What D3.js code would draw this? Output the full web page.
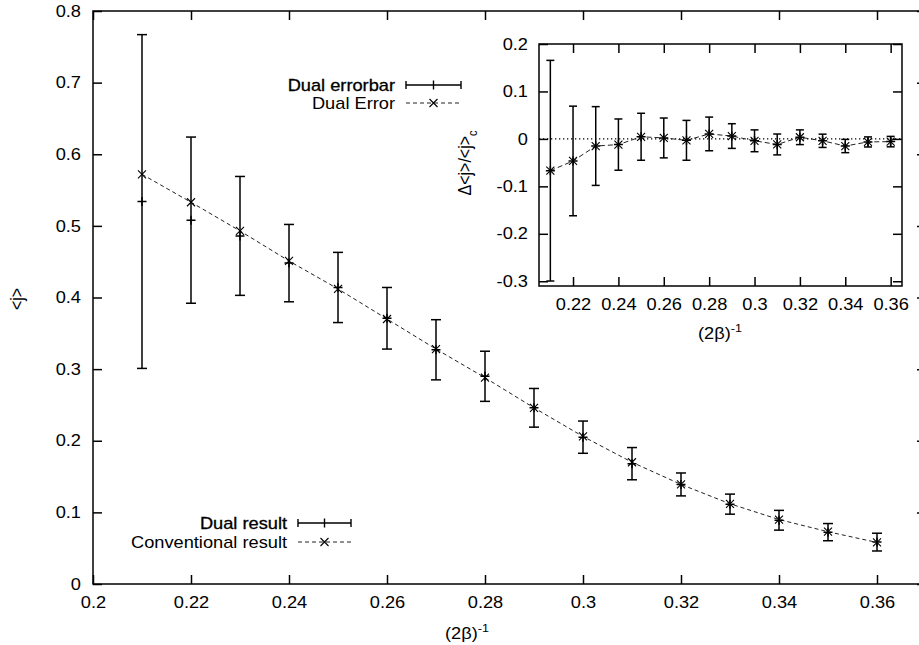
<!DOCTYPE html>
<html>
<head>
<meta charset="utf-8">
<script src="https://cdn.jsdelivr.net/npm/d3@7"></script>
<style>
  body { margin: 0; background: #fff; }
  svg text { font-family: "Liberation Sans", Arial, sans-serif; fill: #000; }
</style>
</head>
<body>
<div id="chart"></div>
<script>
// (2beta)^-1 values shared by both panels
const betaInv = [0.21, 0.22, 0.23, 0.24, 0.25, 0.26, 0.27, 0.28, 0.29, 0.30, 0.31, 0.32, 0.33, 0.34, 0.35, 0.36];
// main panel: conventional <j> and dual result with its error
const conventional = [0.572, 0.533, 0.493, 0.451, 0.412, 0.370, 0.328, 0.288, 0.246, 0.206, 0.170, 0.139, 0.112, 0.090, 0.073, 0.058];
const dualResult = [0.534, 0.508, 0.486, 0.448, 0.414, 0.371, 0.327, 0.290, 0.246, 0.205, 0.168, 0.139, 0.1115, 0.089, 0.0724, 0.0585];
const dualError = [0.233, 0.116, 0.083, 0.054, 0.049, 0.043, 0.042, 0.035, 0.027, 0.0225, 0.0225, 0.016, 0.014, 0.0138, 0.012, 0.0124];
// inset: relative deviation and its error
const relDev = [-0.067, -0.0465, -0.015, -0.012, 0.0045, 0.002, -0.003, 0.0105, 0.006, -0.004, -0.0117, 0.0035, -0.004, -0.015, -0.0064, -0.0057];
const relErr = [0.2325, 0.1155, 0.083, 0.054, 0.0495, 0.042, 0.042, 0.0355, 0.026, 0.023, 0.022, 0.0155, 0.014, 0.014, 0.0106, 0.011];
// tick labels
const mainXTicks = [0.2, 0.22, 0.24, 0.26, 0.28, 0.3, 0.32, 0.34, 0.36];
const mainYTicks = [0, 0.1, 0.2, 0.3, 0.4, 0.5, 0.6, 0.7, 0.8];
const insetXTicks = [0.22, 0.24, 0.26, 0.28, 0.3, 0.32, 0.34, 0.36];
const insetYTicks = [-0.3, -0.2, -0.1, 0, 0.1, 0.2];

const width = 919, height = 645;
const SX = 1.14;       // the picture is a bit wide, stretch the text to match
const FS = 16;

const svg = d3.select("#chart").append("svg")
  .attr("width", width)
  .attr("height", height);

// text helper, stretched horizontally
function label(parent, x, y, anchor, rotate) {
  const g = parent.append("g")
    .attr("transform", `translate(${x},${y}) scale(${SX},1)` + (rotate ? " rotate(-90)" : ""));
  return g.append("text")
    .attr("text-anchor", anchor)
    .attr("dy", "0.35em")
    .attr("font-size", FS);
}

function stretchTicks(sel) {
  sel.selectAll(".tick text").each(function() {
    const t = d3.select(this);
    const x = +t.attr("x") || 0;
    t.attr("x", x / SX).attr("transform", `scale(${SX},1)`);
  });
}

// frame with inward ticks on all four sides
function drawFrame(g, x, y, xTicks, yTicks, xPad, yPad) {
  const [x0, x1] = x.range();
  const [y0, y1] = y.range();
  const fmt = d => String(d);

  const bottom = g.append("g").attr("transform", `translate(0,${y0})`)
    .call(d3.axisBottom(x).tickValues(xTicks).tickFormat(fmt).tickSizeInner(-9).tickSizeOuter(0).tickPadding(xPad));
  const top = g.append("g").attr("transform", `translate(0,${y1})`)
    .call(d3.axisTop(x).tickValues(xTicks).tickFormat("").tickSizeInner(-9).tickSizeOuter(0));
  const left = g.append("g").attr("transform", `translate(${x0},0)`)
    .call(d3.axisLeft(y).tickValues(yTicks).tickFormat(fmt).tickSizeInner(-9).tickSizeOuter(0).tickPadding(yPad));
  const right = g.append("g").attr("transform", `translate(${x1},0)`)
    .call(d3.axisRight(y).tickValues(yTicks).tickFormat("").tickSizeInner(-9).tickSizeOuter(0));

  [bottom, top, left, right].forEach(a => {
    a.select(".domain").remove();
    a.selectAll(".tick line").attr("stroke", "#000").attr("stroke-width", 1.5);
    a.selectAll(".tick text").attr("font-size", FS).attr("font-family", "Liberation Sans, Arial, sans-serif").attr("fill", "#000");
  });
  stretchTicks(bottom);
  stretchTicks(left);

  g.append("rect")
    .attr("x", x0).attr("y", y1)
    .attr("width", x1 - x0).attr("height", y0 - y1)
    .attr("fill", "none")
    .attr("stroke", "#000")
    .attr("stroke-width", 1.5);
}

// error bars with + marker
function drawErrorBars(g, x, y, vals, errs, cap, plus) {
  const pts = betaInv.map((b, i) => ({ b, v: vals[i], e: errs[i] }));
  const eb = g.append("g").attr("stroke", "#000").attr("stroke-width", 1.5).attr("fill", "none");
  const item = eb.selectAll("g").data(pts).join("g");
  item.append("line")
    .attr("x1", d => x(d.b)).attr("x2", d => x(d.b))
    .attr("y1", d => y(d.v - d.e)).attr("y2", d => y(d.v + d.e));
  item.append("line")
    .attr("x1", d => x(d.b) - cap).attr("x2", d => x(d.b) + cap)
    .attr("y1", d => y(d.v - d.e)).attr("y2", d => y(d.v - d.e));
  item.append("line")
    .attr("x1", d => x(d.b) - cap).attr("x2", d => x(d.b) + cap)
    .attr("y1", d => y(d.v + d.e)).attr("y2", d => y(d.v + d.e));
  item.append("path")
    .attr("d", d => `M${x(d.b) - plus},${y(d.v)}H${x(d.b) + plus}M${x(d.b)},${y(d.v) - plus}V${y(d.v) + plus}`);
}

// dashed line with x markers
function drawDashed(g, x, y, vals, dash, xs) {
  const pts = betaInv.map((b, i) => ({ b, v: vals[i] }));
  g.append("path")
    .datum(pts)
    .attr("fill", "none")
    .attr("stroke", "#222")
    .attr("stroke-width", 1)
    .attr("stroke-dasharray", dash)
    .attr("d", d3.line().x(d => x(d.b)).y(d => y(d.v)));
  g.append("g").attr("stroke", "#000").attr("stroke-width", 1.1)
    .selectAll("path").data(pts).join("path")
    .attr("d", d => `M${x(d.b) - xs},${y(d.v) - xs}L${x(d.b) + xs},${y(d.v) + xs}M${x(d.b) - xs},${y(d.v) + xs}L${x(d.b) + xs},${y(d.v) - xs}`);
}

// legend entries
function legendErrorbar(g, x0, x1, yc, text, heavy) {
  const t = label(g, x0 - 11, yc, "end").text(text);
  if (heavy) t.attr("stroke", "#000").attr("stroke-width", 0.3);
  const mid = (x0 + x1) / 2;
  g.append("path")
    .attr("stroke", "#000").attr("stroke-width", 1.4).attr("fill", "none")
    .attr("d", `M${x0},${yc}H${x1}M${x0},${yc - 4}V${yc + 4}M${x1},${yc - 4}V${yc + 4}M${mid},${yc - 4.5}V${yc + 4.5}`);
}
function legendDashed(g, x0, x1, yc, text) {
  label(g, x0 - 11, yc, "end").text(text);
  const mid = (x0 + x1) / 2;
  g.append("path")
    .attr("stroke", "#222").attr("stroke-width", 1).attr("fill", "none")
    .attr("stroke-dasharray", "4,3")
    .attr("d", `M${x0},${yc}H${x1}`);
  g.append("path")
    .attr("stroke", "#000").attr("stroke-width", 1.1).attr("fill", "none")
    .attr("d", `M${mid - 4},${yc - 4}L${mid + 4},${yc + 4}M${mid - 4},${yc + 4}L${mid + 4},${yc - 4}`);
}

// ---- main panel ----
const x = d3.scaleLinear().domain([0.2, 0.37]).range([93, 926]);
const y = d3.scaleLinear().domain([0, 0.8]).range([584, 11]);
const main = svg.append("g");
drawFrame(main, x, y, mainXTicks, mainYTicks, 13, 12);
drawDashed(main, x, y, conventional, "4,3", 4);
drawErrorBars(main, x, y, dualResult, dualError, 5, 4.5);

// axis titles
const xt = label(svg, 467, 633, "middle").text("(2β)");
xt.append("tspan").attr("font-size", 11).attr("dy", -7).text("-1");
label(svg, 17, 299, "middle", true).text("<j>");

// bottom legend
legendErrorbar(svg, 298, 351, 523, "Dual result", true);
legendDashed(svg, 298, 351, 542, "Conventional result");

// ---- inset ----
const xi = d3.scaleLinear().domain([0.205, 0.365]).range([539, 902]);
const yi = d3.scaleLinear().domain([-0.31, 0.2]).range([286, 44]);
const inset = svg.append("g");
inset.append("rect").attr("x", 539).attr("y", 44).attr("width", 363).attr("height", 242).attr("fill", "#fff");
inset.append("line")
  .attr("x1", xi.range()[0]).attr("x2", xi.range()[1])
  .attr("y1", yi(0)).attr("y2", yi(0))
  .attr("stroke", "#000").attr("stroke-width", 1.3)
  .attr("stroke-dasharray", "1.3,2.7");
drawDashed(inset, xi, yi, relDev, "5,3", 4);
drawErrorBars(inset, xi, yi, relDev, relErr, 4, 4.5);
drawFrame(inset, xi, yi, insetXTicks, insetYTicks, 13, 11);

const xit = label(svg, 720, 333, "middle").text("(2β)");
xit.append("tspan").attr("font-size", 11).attr("dy", -7).text("-1");
const yit = label(svg, 465, 163, "middle", true).text("Δ<j>/<j>");
yit.append("tspan").attr("font-size", 11).attr("dy", 5).text("c");

// inset legend (sits left of the inset)
legendErrorbar(svg, 406, 461, 85, "Dual errorbar", true);
legendDashed(svg, 406, 461, 103, "Dual Error");
</script>
</body>
</html>
